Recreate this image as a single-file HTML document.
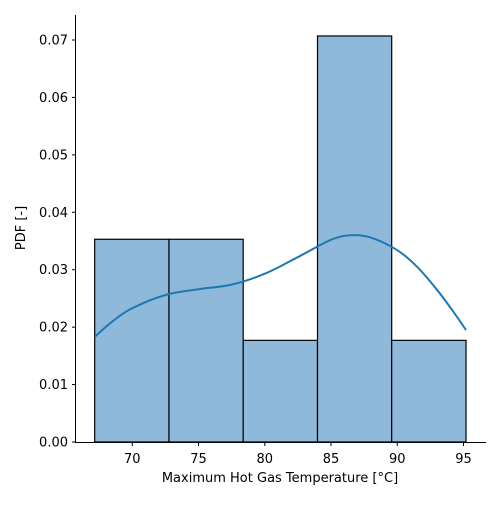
<!DOCTYPE html>
<html><head><meta charset="utf-8"><style>
body{margin:0;background:#fff}
svg text{font-family:"DejaVu Sans","Liberation Sans",sans-serif;font-size:13px;fill:#000}
</style></head><body>
<svg width="500" height="500">
<g id="bars"></g>
<path id="kde" fill="none" stroke="#1f77b4" stroke-width="2"/>
<g id="axes"></g>
<text x="280" y="482" text-anchor="middle">Maximum Hot Gas Temperature [°C]</text>
<text transform="translate(25,228) rotate(-90)" text-anchor="middle">PDF [-]</text>
</svg>
<script>
const binEdges=[67.16,72.77,78.37,83.98,89.58,95.19];
const density=[0.0353,0.0353,0.0177,0.0707,0.0177];
const kdeX=[67.16,68.5,70,72.5,75,77.5,80,82.5,85,86.5,88,90,91.5,93,94.2,95.19];
const kdeY=[0.0183,0.0210,0.0233,0.0256,0.0266,0.0274,0.0293,0.0322,0.0352,0.0360,0.0356,0.0334,0.0305,0.0265,0.0228,0.0195];
const xTicks=[70,75,80,85,90,95];
const yTicks=[0,0.01,0.02,0.03,0.04,0.05,0.06,0.07];
const NS="http://www.w3.org/2000/svg";
const X=v=>132.3+(v-70)*13.248;
const Y=v=>442-v*5743;
const bars=document.getElementById('bars');
density.forEach((d,i)=>{
 const r=document.createElementNS(NS,'rect');
 r.setAttribute('x',X(binEdges[i]));r.setAttribute('width',X(binEdges[i+1])-X(binEdges[i]));
 r.setAttribute('y',Y(d));r.setAttribute('height',442-Y(d));
 r.setAttribute('fill','#8fb9db');r.setAttribute('stroke','#000');r.setAttribute('stroke-width','1.2');
 
 
 bars.appendChild(r);
});
const P=kdeX.map((x,i)=>[X(x),Y(kdeY[i])]);
let d='M'+P[0][0]+','+P[0][1];
for(let i=0;i<P.length-1;i++){
 const p0=P[Math.max(i-1,0)],p1=P[i],p2=P[i+1],p3=P[Math.min(i+2,P.length-1)];
 const c1=[p1[0]+(p2[0]-p0[0])/6,p1[1]+(p2[1]-p0[1])/6];
 const c2=[p2[0]-(p3[0]-p1[0])/6,p2[1]-(p3[1]-p1[1])/6];
 d+='C'+c1.join(',')+' '+c2.join(',')+' '+p2.join(',');
}
document.getElementById('kde').setAttribute('d',d);
const ax=document.getElementById('axes');
function line(x1,y1,x2,y2,n){const l=document.createElementNS(NS,'line');l.setAttribute('x1',x1);l.setAttribute('y1',y1);l.setAttribute('x2',x2);l.setAttribute('y2',y2);l.setAttribute('stroke','#000');l.setAttribute('stroke-width','1');


ax.appendChild(l);}
function text(x,y,s,a,n){const t=document.createElementNS(NS,'text');t.setAttribute('x',x);t.setAttribute('y',y);t.setAttribute('text-anchor',a);t.textContent=s;


ax.appendChild(t);}
line(75.5,15,75.5,442.5,'y-axis-line');
line(75,442.5,486,442.5,'x-axis-line');
xTicks.forEach(v=>{line(X(v),442.5,X(v),446,'x-tick');text(X(v),463,String(v),'middle','x-tick-label');});
yTicks.forEach(v=>{line(72,Y(v),75.5,Y(v),'y-tick');text(68,Y(v)+4.5,v.toFixed(2),'end','y-tick-label');});
</script>
</body></html>
